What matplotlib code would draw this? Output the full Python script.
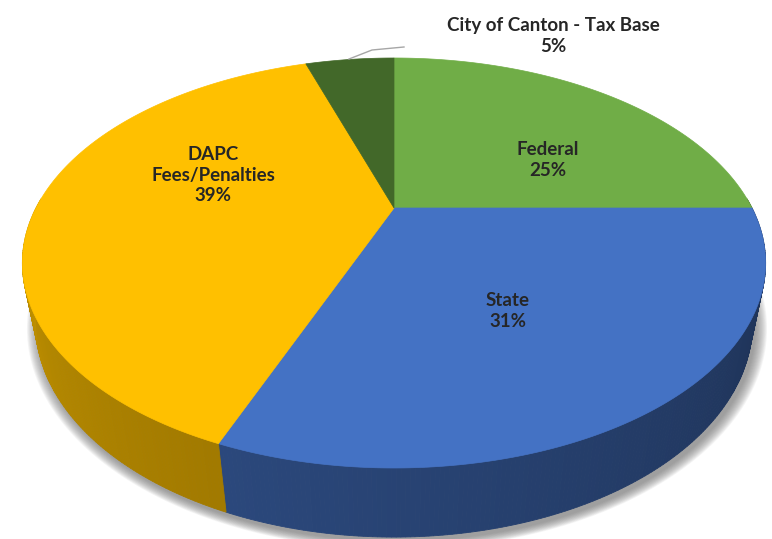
import numpy as np
import matplotlib.pyplot as plt
from matplotlib.patches import Polygon
import matplotlib.colors as mcolors

categories = ['Federal', 'State', 'DAPC\nFees/Penalties', 'City of Canton - Tax Base']
values = [25, 31, 39, 5]
pct_labels = ['25%', '31%', '39%', '5%']
top_colors = ['#70AD47', '#4472C4', '#FFC000', '#426829']

W, Hpx = 772, 539
fig = plt.figure(figsize=(W / 100, Hpx / 100), dpi=100)
ax = fig.add_axes([0, 0, 1, 1])
ax.set_xlim(0, W)
ax.set_ylim(Hpx, 0)
ax.axis('off')

# perspective view of a disc
CX, CY = 394, 208
e = np.radians(32.1)
s, c = np.sin(e), np.cos(e)
D = 3.158
F = 1130.6
THICK = 0.204


def proj(theta, r=1.0, h=0.0):
    x = r * np.sin(theta)
    y = -r * np.cos(theta)
    yc = y * s + h * c
    depth = D - y * c + h * s
    return CX + F * x / depth, CY + F * yc / depth


# shadow
th_back = np.linspace(-np.pi / 2, np.pi / 2, 200)
th_front = np.linspace(np.pi / 2, 3 * np.pi / 2, 200)
bx, by = proj(th_back, h=THICK * 0.5)
fx, fy = proj(th_front, h=THICK)
sx = np.concatenate([bx, fx])
sy = np.concatenate([by, fy])
mx, my = sx.mean(), sy.mean()
for k in range(14):
    f = 1.0 + 0.0025 * k
    ax.add_patch(Polygon(np.column_stack([mx + (sx - mx) * f + 3, my + (sy - my) * f + 4]),
                         closed=True, facecolor='#707070', edgecolor='none',
                         alpha=0.07, zorder=1))

# slices
total = float(sum(values))
bounds = np.concatenate([[0], np.cumsum(values)]) / total * 2 * np.pi


def shade(theta):
    deg = np.degrees(theta)
    return 0.41 + (deg - 90) * 0.0020


for i, val in enumerate(values):
    a0, a1 = bounds[i], bounds[i + 1]
    base = np.array(mcolors.to_rgb(top_colors[i]))
    # side
    lo, hi = max(a0, np.pi / 2 - 0.05), min(a1, 3 * np.pi / 2 + 0.05)
    if hi > lo:
        n = max(2, int((hi - lo) / 0.01))
        ts = np.linspace(lo, hi, n + 1)
        for j in range(n):
            t0, t1 = ts[j], ts[j + 1]
            x0, y0 = proj(t0)
            x1, y1 = proj(t1)
            x2, y2 = proj(t1, h=THICK)
            x3, y3 = proj(t0, h=THICK)
            col = np.clip(base * shade((t0 + t1) / 2), 0, 1)
            ax.add_patch(Polygon([[x0, y0], [x1, y1], [x2, y2], [x3, y3]], closed=True,
                                 facecolor=col, edgecolor=col, linewidth=0.6, zorder=2))
    # top
    ts = np.linspace(a0, a1, 200)
    px, py = proj(ts)
    pts = np.column_stack([np.concatenate([[CX], px]), np.concatenate([[CY], py])])
    ax.add_patch(Polygon(pts, closed=True, facecolor=top_colors[i], edgecolor=top_colors[i],
                         linewidth=0.5, zorder=3))

font = dict(family=['Lato', 'DejaVu Sans'], fontweight='bold', fontsize=13.5,
            color='#262626', ha='center', va='center', linespacing=1.25, zorder=5)
label_pos = [(548, 160), (508, 311), (213, 175), (553, 36)]
for i in range(len(values)):
    ax.text(label_pos[i][0], label_pos[i][1], categories[i] + '\n' + pct_labels[i], **font)

# leader line for small slice
ax.plot([349, 372, 404], [59, 50, 47], color='#A6A6A6', linewidth=1.0, zorder=4)

fig.savefig('out.png', dpi=100)
